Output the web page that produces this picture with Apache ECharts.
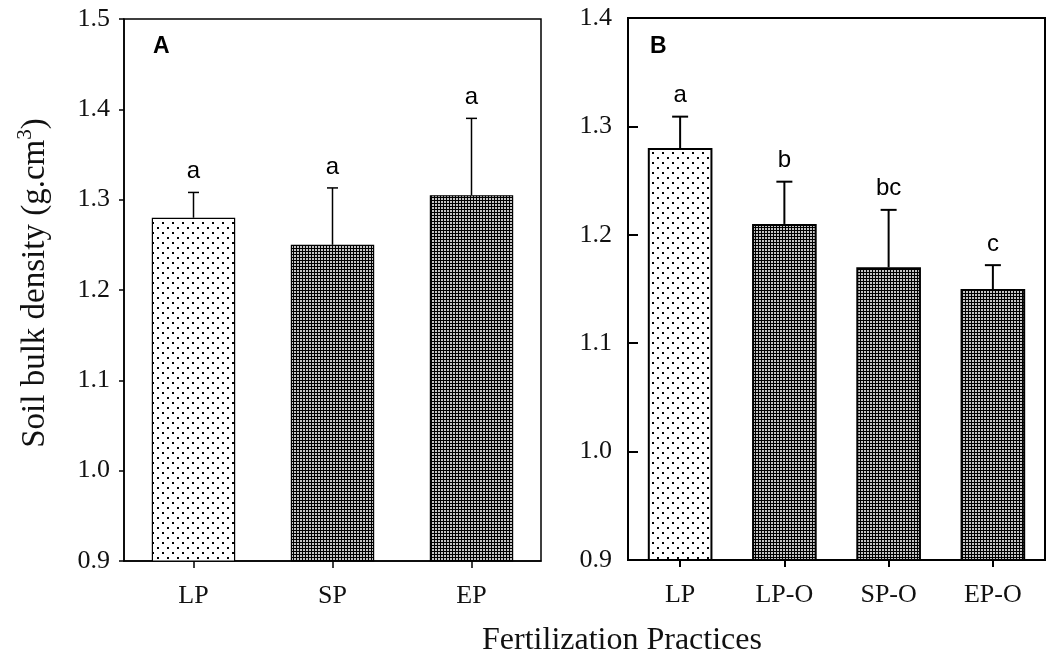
<!DOCTYPE html>
<html>
<head>
<meta charset="utf-8">
<script src="https://cdn.jsdelivr.net/npm/echarts@6/dist/echarts.min.js"></script>
<style>
  html, body { margin: 0; background: #fff; }
  #chart { width: 1050px; height: 657px; }
</style>
</head>
<body>
<div id="chart"></div>
<script>
// panel A
const catsA = ['LP', 'SP', 'EP']
const meanA = [1.28, 1.25, 1.305]
const errA = [0.028, 0.063, 0.085]
const lettersA = ['a', 'a', 'a']

// panel B
const catsB = ['LP', 'LP-O', 'SP-O', 'EP-O']
const meanB = [1.28, 1.21, 1.17, 1.15]
const errB = [0.029, 0.039, 0.053, 0.022]
const lettersB = ['a', 'b', 'bc', 'c']

const serif = '"Liberation Serif", "Times New Roman", serif'
const sans = '"Liberation Sans", Arial, sans-serif'

// fill patterns
const dotTile = (() => {
  const c = document.createElement('canvas')
  c.width = 10; c.height = 10
  const g = c.getContext('2d')
  g.fillStyle = '#fff'; g.fillRect(0, 0, 10, 10)
  g.fillStyle = '#000'
  g.fillRect(2, 2, 2, 2)
  g.fillRect(7, 7, 2, 2)
  return c
})()
const checkTile = (() => {
  const c = document.createElement('canvas')
  c.width = 3; c.height = 3
  const g = c.getContext('2d')
  g.fillStyle = '#000'; g.fillRect(0, 0, 3, 3)
  g.fillStyle = '#c4c4c4'; g.fillRect(0, 0, 2, 2)
  return c
})()
const fillFor = cat => ({ image: cat === 'LP' ? dotTile : checkTile, repeat: 'repeat' })

const chart = echarts.init(document.getElementById('chart'), null, { renderer: 'canvas' })

function errorBars(letters, capW, lw, gap) {
  return (params, api) => {
    const i = api.value(0)
    const base = api.coord([i, api.value(1)])
    const top = api.coord([i, api.value(1) + api.value(2)])
    const style = { stroke: '#000', lineWidth: lw }
    return {
      type: 'group',
      children: [
        { type: 'line', shape: { x1: base[0], y1: base[1], x2: top[0], y2: top[1] }, style },
        { type: 'line', shape: { x1: top[0] - capW / 2, y1: top[1], x2: top[0] + capW / 2, y2: top[1] }, style },
        {
          type: 'text', x: top[0], y: top[1] - gap,
          style: { text: letters[params.dataIndex], font: '24px ' + sans, fill: '#000', align: 'center', verticalAlign: 'bottom' }
        }
      ]
    }
  }
}

function yAxis(idx, max, tickInside, lw, margin) {
  return {
    type: 'value', gridIndex: idx, min: 0.9, max: max, interval: 0.1,
    axisLine: { show: true, lineStyle: { color: '#000', width: lw } },
    axisTick: { show: true, inside: tickInside, length: tickInside ? 10 : 5, lineStyle: { color: '#000', width: lw } },
    splitLine: { show: false },
    axisLabel: { color: '#111', fontFamily: serif, fontSize: 26, margin: margin, formatter: v => v.toFixed(1) }
  }
}

function xAxis(idx, cats, lw) {
  return {
    type: 'category', gridIndex: idx, data: cats,
    axisLine: { show: true, lineStyle: { color: '#000', width: lw } },
    axisTick: { show: true, alignWithLabel: true, length: 7, lineStyle: { color: '#000', width: lw } },
    axisLabel: { color: '#111', fontFamily: serif, fontSize: 26, margin: 22 }
  }
}

const option = {
  backgroundColor: '#fff',
  animation: false,
  grid: [
    { left: 124, top: 19, width: 417, height: 542, show: true, borderColor: '#000', borderWidth: 1.5, backgroundColor: 'transparent' },
    { left: 628, top: 18, width: 417, height: 542, show: true, borderColor: '#000', borderWidth: 2, backgroundColor: 'transparent' }
  ],
  xAxis: [xAxis(0, catsA, 1.5), xAxis(1, catsB, 2)],
  yAxis: [yAxis(0, 1.5, false, 1.5, 14), yAxis(1, 1.4, true, 2, 16)],
  series: [
    {
      type: 'bar', xAxisIndex: 0, yAxisIndex: 0, barWidth: '60%',
      data: meanA.map((v, i) => ({ value: v, itemStyle: { color: fillFor(catsA[i]) } })),
      itemStyle: { borderColor: '#000', borderWidth: 1.2 }
    },
    {
      type: 'custom', xAxisIndex: 0, yAxisIndex: 0, z: 5,
      renderItem: errorBars(lettersA, 11, 1.5, 9),
      data: meanA.map((v, i) => [i, v, errA[i]])
    },
    {
      type: 'bar', xAxisIndex: 1, yAxisIndex: 1, barWidth: '62%',
      data: meanB.map((v, i) => ({ value: v, itemStyle: { color: fillFor(catsB[i]) } })),
      itemStyle: { borderColor: '#000', borderWidth: 2 }
    },
    {
      type: 'custom', xAxisIndex: 1, yAxisIndex: 1, z: 5,
      renderItem: errorBars(lettersB, 16, 2, 9),
      data: meanB.map((v, i) => [i, v, errB[i]])
    }
  ],
  graphic: [
    { type: 'text', left: 153, top: 35, style: { text: 'A', font: 'bold 23px ' + sans, fill: '#000' } },
    { type: 'text', left: 650, top: 35, style: { text: 'B', font: 'bold 23px ' + sans, fill: '#000' } },
    {
      type: 'text', x: 35, y: 283, rotation: Math.PI / 2,
      style: {
        text: '{n|Soil bulk density (g.cm}{s|3}{n|)}',
        align: 'center', verticalAlign: 'middle', fill: '#111',
        rich: {
          n: { fontFamily: serif, fontSize: 33, lineHeight: 40, fill: '#111' },
          s: { fontFamily: serif, fontSize: 21, lineHeight: 21, verticalAlign: 'top', fill: '#111' }
        }
      }
    },
    {
      type: 'text', x: 622, y: 641,
      style: { text: 'Fertilization Practices', font: '32px ' + serif, fill: '#111', align: 'center', verticalAlign: 'middle' }
    }
  ]
}

chart.setOption(option)
</script>
</body>
</html>
